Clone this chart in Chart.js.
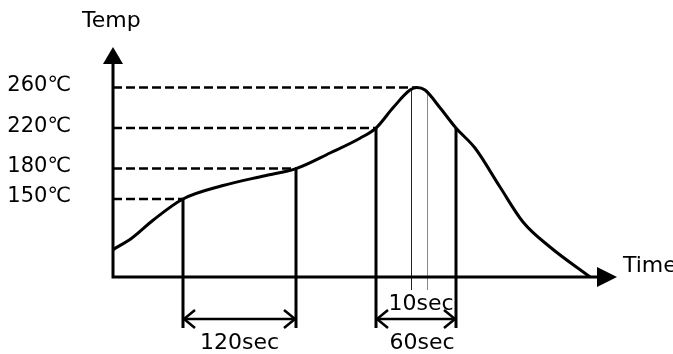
<!DOCTYPE html>
<html>
<head>
<title>Reflow profile</title>
<meta charset="UTF-8">
<script src="https://cdn.jsdelivr.net/npm/chart.js@4.4.1/dist/chart.umd.min.js"></script>
<style>
 body{margin:0;background:#fff;}
 #wrap{width:673px;height:354px;}
</style>
</head>
<body>
<div id="wrap"><canvas id="canvas" width="673" height="354"></canvas></div>
<script>
// profile curve (time read off the picture, not to scale) and temperature
var curveTime = [0, 19, 40, 70, 109, 152, 183, 217, 247, 263, 280, 297, 304, 312, 327, 343, 362, 387, 410, 437, 477];
var curveTemp = [100, 111.5, 129, 150, 163, 173, 180, 195.4, 210, 220, 240, 257.5, 260, 257.5, 240, 220, 200.3, 161.8, 127.3, 102.6, 73];

// temperature levels with dashed guides, and where the curve reaches them
var levelTemps = [150, 180, 220, 260];
var levelLabels = ['150℃', '180℃', '220℃', '260℃'];
var levelTimes = [70, 183, 263, 304];

// spans marked under the axis
var spanStart = [70, 263];
var spanEnd = [183, 343];
var spanLabels = ['120sec', '60sec'];
var spanTopTemps = [150, 220];
var spanEndTemps = [180, 220];
var peakLines = [298, 314];
var peakLabel = '10sec';

var axisMin = 73, axisMax = 300, timeMax = 504;
var FONT = '22px "DejaVu Sans", "Noto Sans CJK SC", sans-serif';
var LEVEL_FONT = '21px "DejaVu Sans", "Noto Sans CJK SC", sans-serif';

function arrowHead(ctx, x, y, dir){
  // open chevron, dir = -1 points left, 1 points right
  ctx.beginPath();
  ctx.moveTo(x - dir*11, y - 9);
  ctx.lineTo(x, y);
  ctx.lineTo(x - dir*11, y + 9);
  ctx.stroke();
}

var drawExtras = {
  id: 'drawExtras',
  beforeDatasetsDraw: function(chart){
    var ctx = chart.ctx, xs = chart.scales.x, ys = chart.scales.y;
    var a = chart.chartArea;
    ctx.save();
    ctx.strokeStyle = '#000';
    // dashed guides
    ctx.lineWidth = 2.5;
    ctx.setLineDash([9, 4]);
    for (var i = 0; i < levelTemps.length; i++){
      var py = ys.getPixelForValue(levelTemps[i]);
      ctx.beginPath();
      ctx.moveTo(a.left, py);
      ctx.lineTo(xs.getPixelForValue(levelTimes[i]), py);
      ctx.stroke();
    }
    ctx.setLineDash([]);
    // thin peak lines
    ctx.lineWidth = 1;
    var pcol = ['#222', '#888'];
    for (var i = 0; i < peakLines.length; i++){
      var px = Math.round(xs.getPixelForValue(peakLines[i])) + 0.5;
      ctx.strokeStyle = pcol[i];
      ctx.beginPath();
      ctx.moveTo(px, ys.getPixelForValue(257));
      ctx.lineTo(px, a.bottom + 13);
      ctx.stroke();
    }
    ctx.strokeStyle = '#000';
    // thick span lines and double arrows
    for (var i = 0; i < spanStart.length; i++){
      var x1 = xs.getPixelForValue(spanStart[i]);
      var x2 = xs.getPixelForValue(spanEnd[i]);
      ctx.lineWidth = 3;
      ctx.beginPath();
      ctx.moveTo(x1, ys.getPixelForValue(spanTopTemps[i]));
      ctx.lineTo(x1, a.bottom + 51);
      ctx.moveTo(x2, ys.getPixelForValue(spanEndTemps[i]));
      ctx.lineTo(x2, a.bottom + 51);
      ctx.stroke();
      var ay = a.bottom + 42;
      ctx.lineWidth = 2.5;
      ctx.beginPath();
      ctx.moveTo(x1, ay);
      ctx.lineTo(x2, ay);
      ctx.stroke();
      arrowHead(ctx, x1 + 1, ay, -1);
      arrowHead(ctx, x2 - 1, ay, 1);
    }
    // axes with filled heads
    ctx.lineWidth = 3;
    ctx.beginPath();
    ctx.moveTo(a.left, a.bottom);
    ctx.lineTo(a.left, a.top + 14);
    ctx.moveTo(a.left - 1.5, a.bottom);
    ctx.lineTo(a.right - 16, a.bottom);
    ctx.stroke();
    ctx.fillStyle = '#000';
    ctx.beginPath();
    ctx.moveTo(a.left, a.top);
    ctx.lineTo(a.left - 10, a.top + 17);
    ctx.lineTo(a.left + 10, a.top + 17);
    ctx.closePath();
    ctx.fill();
    ctx.beginPath();
    ctx.moveTo(a.right, a.bottom);
    ctx.lineTo(a.right - 20, a.bottom - 10);
    ctx.lineTo(a.right - 20, a.bottom + 10);
    ctx.closePath();
    ctx.fill();

    // texts
    ctx.fillStyle = '#000';
    ctx.font = LEVEL_FONT;
    ctx.textAlign = 'right';
    ctx.textBaseline = 'middle';
    for (var i = 0; i < levelTemps.length; i++){
      ctx.fillText(levelLabels[i], a.left - 42, ys.getPixelForValue(levelTemps[i]) - 2);
    }
    ctx.font = FONT;
    ctx.textAlign = 'center';
    ctx.textBaseline = 'alphabetic';
    for (var i = 0; i < spanStart.length; i++){
      var cx = (xs.getPixelForValue(spanStart[i]) + xs.getPixelForValue(spanEnd[i])) / 2;
      ctx.fillText(spanLabels[i], cx + (i == 1 ? 6 : 0), a.bottom + 72);
    }
    ctx.fillText(peakLabel, (xs.getPixelForValue(peakLines[0]) + xs.getPixelForValue(peakLines[1])) / 2 + 2, a.bottom + 33);
    ctx.textAlign = 'left';
    ctx.fillText('Temp', a.left - 31, 27);
    ctx.fillText('Time', a.right + 6, a.bottom - 5);
    ctx.restore();
  }
};

var points = [];
for (var i = 0; i < curveTime.length; i++){
  points.push({x: curveTime[i], y: curveTemp[i]});
}

var ctx = document.getElementById('canvas').getContext('2d');
var chart = new Chart(ctx, {
  type: 'line',
  data: {
    datasets: [{
      label: 'Temp',
      data: points,
      borderColor: '#000',
      borderWidth: 3,
      pointRadius: 0,
      fill: false,
      cubicInterpolationMode: 'monotone'
    }]
  },
  options: {
    responsive: false,
    animation: false,
    layout: {padding: {left: 113, right: 56, top: 47, bottom: 77}},
    plugins: {legend: {display: false}, tooltip: {enabled: false}},
    scales: {
      x: {type: 'linear', min: 0, max: timeMax, display: false},
      y: {min: axisMin, max: axisMax, display: false}
    }
  },
  plugins: [drawExtras]
});
</script>
</body>
</html>
